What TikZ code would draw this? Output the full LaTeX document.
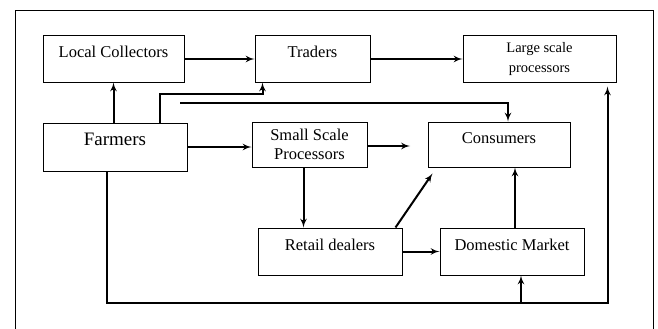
\documentclass[tikz,border=0pt]{standalone}
\usepackage{fontspec}
\setmainfont{Liberation Serif}
\usepackage{tikz}
\usetikzlibrary{shapes,arrows,positioning}
\tikzstyle{line} = [draw, line width=0.9pt]
\tikzstyle{box} = [rectangle, draw, line width=1pt, text centered, font=\fontsize{16.5}{19}\selectfont]
\tikzstyle{toptext} = [text height=11pt, text depth=14pt]
\tikzstyle{line2} = [draw, line width=2pt, -latex']

\begin{document}
\begin{tikzpicture}[x=1pt, y=-1pt]
			\useasboundingbox (0,0) rectangle (658,329);
			% Outer frame
			\path [line] (15,329) -- (15,10) -- (653,10) -- (653,329);

			% Place nodes
			\node [box, toptext, minimum width=141pt, minimum height=46pt] (collectors) at (113.5, 59) {Local Collectors};
			\node [box, toptext, minimum width=115pt, minimum height=46pt] (traders) at (312.5, 59) {Traders};
			\node [box, align=center, font=\fontsize{14.5}{20}\selectfont, minimum width=153pt, minimum height=46pt] (large) at (539.5, 59) {Large scale\\processors};

			\node [box, toptext, font=\fontsize{19}{21}\selectfont, minimum width=144pt, minimum height=48pt] (farmers) at (115, 147) {Farmers};
			\node [box, align=center, font=\fontsize{16.5}{19}\selectfont, inner sep=1pt, minimum width=115pt, minimum height=45pt] (small) at (309.5, 144.5) {Small Scale\\Processors};
			\node [box, toptext, minimum width=142pt, minimum height=45pt] (consumers) at (499, 144.5) {Consumers};

			\node [box, toptext, minimum width=144pt, minimum height=47pt] (retail) at (330, 251.5) {Retail dealers};
			\node [box, toptext, minimum width=144pt, minimum height=47pt] (domestic) at (512, 251.5) {Domestic Market};

			\coordinate (loose) at (180, 103);
			\coordinate (smallend) at (410, 146);
			\coordinate (junction) at (521, 303);

			% Draw edges
			\path [line2] (collectors) -- (traders);
			\path [line2] (traders) -- (large);
			\path [line2] (collectors.south |- farmers.north) -- (collectors.south);
			\path [line2] ([xshift=45pt]farmers.north) -- ++(0,-29) -| ([xshift=-50pt]traders.south);
			\path [line2] (loose) -| ([xshift=9pt]consumers.north);
			\path [line2] (farmers.east) -- (farmers.east -| small.west);
			\path [line2] (small.east |- smallend) -- (smallend);
			\path [line2] ([xshift=-6pt]small.south) -- ([xshift=-6pt]small.south |- retail.north);
			\path [line2] ([xshift=-7pt]retail.north east) -- ([shift={(5pt,-6pt)}]consumers.south west);
			\path [line2] (retail) -- (domestic);
			\path [line2] ([xshift=3pt]domestic.north) -- ([xshift=3pt]domestic.north |- consumers.south);
			\path [line2] ([xshift=-8pt]farmers.south) |- (junction) -- (junction |- domestic.south);
			\path [line2, shorten >=4pt] (junction) -| ([xshift=68pt]large.south);
		\end{tikzpicture}
\end{document}
